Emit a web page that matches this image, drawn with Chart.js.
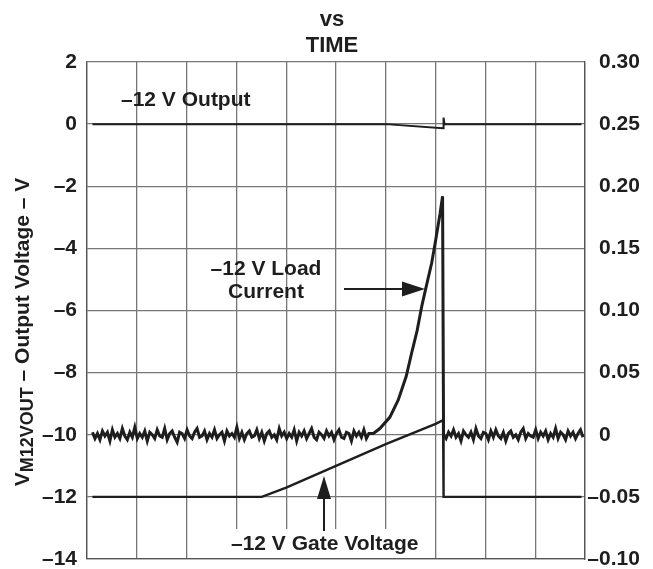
<!DOCTYPE html>
<html>
<head>
<meta charset="utf-8">
<script src="https://cdn.jsdelivr.net/npm/chart.js@4.4.0/dist/chart.umd.min.js"></script>
<style>
  html, body { margin: 0; padding: 0; background: #fff; overflow: hidden; }
  canvas { display: block; }
</style>
</head>
<body>
<canvas id="grafico" width="653" height="569"></canvas>
<script>
// time axis is in screen divisions (0..10), no labels on it
const leftTicks = [-14, -12, -10, -8, -6, -4, -2, 0, 2];
const leftTickLabels = ["–14", "–12", "–10", "–8", "–6", "–4", "–2", "0", "2"];
const rightTicks = [-0.10, -0.05, 0, 0.05, 0.10, 0.15, 0.20, 0.25, 0.30];
const rightTickLabels = ["–0.10", "–0.05", "0", "0.05", "0.10", "0.15", "0.20", "0.25", "0.30"];

// -12 V output voltage (V)
const outputT = [0.11, 6.0, 7.15, 7.16, 7.18, 9.93];
const outputV = [0, 0, -0.13, 0.21, 0, 0];

// -12 V gate voltage (V)
const gateT = [0.11, 3.51, 4.0, 5.0, 6.0, 7.0, 7.15, 7.16, 9.93];
const gateV = [-12, -12, -11.7, -11.0, -10.3, -9.65, -9.53, -12, -12];

// -12 V load current, noisy part before the ramp (mA), one sample every 0.05 div from 0.11
const loadNoiseBefore = [
  2,-3,1,-4,3,-1,2,-5,4,-2,1,-3,5,-1,-4,2,-2,6,-3,1,
  -2,3,-5,2,0,-3,4,-1,-2,5,-4,1,3,-2,-6,2,1,-3,4,-1,
  -3,2,5,-2,-1,3,-4,1,-2,4,-3,0,2,-5,3,-1,1,-2,6,-3,
  2,-4,1,3,-2,-1,4,-3,2,-5,1,3,-2,0,-4,5,-1,2,-3,1,
  -2,4,-5,2,-1,3,-3,1,5,-2,-4,2,0,-3,3,-1,2,-4,1,4,
  -2,-3,2,1,-5,3,-1,2,-2,4,-3,1
];
// the ramp up to trip (A)
const riseT = [5.75, 5.88, 6.08, 6.25, 6.41, 6.52, 6.63, 6.72, 6.81, 6.92, 6.99, 7.09, 7.14];
const riseI = [0.001, 0.005, 0.014, 0.028, 0.047, 0.066, 0.084, 0.103, 0.119, 0.138, 0.154, 0.178, 0.192];
// after the trip (mA), from 7.21
const loadNoiseAfter = [
  -3,2,-1,4,-2,1,-5,3,0,-2,2,-4,5,-1,-3,2,1,-4,3,-2,
  4,-1,-3,2,-5,1,3,-2,0,-4,2,5,-3,1,-1,-2,4,-3,2,-1,
  3,-4,1,-2,5,-3,2,0,-4,3,-1,2,-3,1,4,-2
];

const FONT = '"Liberation Sans", Arial, sans-serif';
const INK = "#1e1e1e";

let loadPts = [];
loadNoiseBefore.forEach((mA, i) => loadPts.push({x: 0.11 + i * 0.05, y: mA / 1000}));
riseT.forEach((t, i) => loadPts.push({x: t, y: riseI[i]}));
loadPts.push({x: 7.16, y: 0});
loadNoiseAfter.forEach((mA, i) => loadPts.push({x: 7.21 + i * 0.05, y: mA / 1000}));

function arrowHead(ctx, tx, ty, dir) {
  // dir: "right" or "up"
  ctx.beginPath();
  if (dir == "right") {
    ctx.moveTo(tx, ty); ctx.lineTo(tx - 23, ty - 7.5); ctx.lineTo(tx - 23, ty + 7.5);
  } else {
    ctx.moveTo(tx, ty); ctx.lineTo(tx - 7, ty + 23); ctx.lineTo(tx + 7, ty + 23);
  }
  ctx.closePath();
  ctx.fill();
}

const overlay = {
  id: "overlay",
  afterDraw(chart) {
    const ctx = chart.ctx;
    const yI = chart.scales.yI, yV = chart.scales.yV;
    ctx.save();
    ctx.fillStyle = INK;
    ctx.strokeStyle = INK;

    // title (top line is cut off in the original)
    ctx.font = "bold 22px " + FONT;
    ctx.textAlign = "center";
    ctx.textBaseline = "alphabetic";
    ctx.fillText("vs", 332, 26);
    ctx.fillText("TIME", 332, 52);

    // axis labels
    ctx.font = "bold 21px " + FONT;
    ctx.textBaseline = "middle";
    leftTicks.forEach((v, i) => {
      ctx.textAlign = "right";
      ctx.fillText(leftTickLabels[i], 77, yV.getPixelForValue(v));
    });
    // right side: minus sign hangs to the left
    rightTicks.forEach((v, i) => {
      const y = yI.getPixelForValue(v);
      let lab = rightTickLabels[i];
      if (lab[0] == "–") {
        ctx.textAlign = "right";
        ctx.fillText("–", 599, y);
        lab = lab.substring(1);
      }
      ctx.textAlign = "left";
      ctx.fillText(lab, 599, y);
    });

    // left axis title with subscript
    ctx.save();
    ctx.translate(29, 332);
    ctx.rotate(-Math.PI / 2);
    ctx.textBaseline = "alphabetic";
    ctx.textAlign = "left";
    const big = "bold 21px " + FONT, small = "bold 18px " + FONT;
    ctx.font = big;
    const wV = ctx.measureText("V").width;
    const rest = " – Output Voltage – V";
    const wRest = ctx.measureText(rest).width;
    ctx.font = small;
    const wSub = ctx.measureText("M12VOUT").width;
    let x0 = -(wV + wSub + wRest) / 2;
    ctx.font = big;
    ctx.fillText("V", x0, 0);
    ctx.font = small;
    ctx.fillText("M12VOUT", x0 + wV, 4);
    ctx.font = big;
    ctx.fillText(rest, x0 + wV + wSub, 0);
    ctx.restore();

    // annotations
    ctx.font = "bold 21px " + FONT;
    ctx.textBaseline = "alphabetic";
    ctx.textAlign = "left";
    ctx.fillText("–12 V Output", 121, 106);

    ctx.textAlign = "center";
    ctx.fillText("–12 V Load", 266, 275);
    ctx.fillText("Current", 266, 298);

    ctx.lineWidth = 2;
    ctx.beginPath();
    ctx.moveTo(344, 289); ctx.lineTo(405, 289);
    ctx.stroke();
    arrowHead(ctx, 425, 289, "right");

    ctx.fillStyle = "#fff";
    ctx.fillRect(226, 529, 204, 29);
    ctx.fillStyle = INK;
    ctx.textAlign = "left";
    ctx.fillText("–12 V Gate Voltage", 231, 550);

    ctx.beginPath();
    ctx.moveTo(324, 531); ctx.lineTo(324, 497);
    ctx.stroke();
    arrowHead(ctx, 324, 476, "up");

    ctx.restore();
  }
};

const lineDs = (pts, axis, w) => ({
  data: pts, yAxisID: axis, showLine: true, borderColor: INK,
  borderWidth: w, pointRadius: 0, tension: 0, fill: false
});

new Chart("grafico", {
  type: "scatter",
  data: {
    datasets: [
      lineDs(outputT.map((t, i) => ({x: t, y: outputV[i]})), "yV", 2),
      lineDs(gateT.map((t, i) => ({x: t, y: gateV[i]})), "yV", 2.4),
      lineDs(loadPts, "yI", 3)
    ]
  },
  options: {
    responsive: false,
    animation: false,
    layout: {padding: {top: 62, bottom: 10, left: 0, right: 0}},
    plugins: {legend: {display: false}, tooltip: {enabled: false}, title: {display: false}},
    scales: {
      x: {
        type: "linear", min: 0, max: 10,
        ticks: {display: false, stepSize: 1},
        grid: {color: "#777", lineWidth: 1.3, drawTicks: false},
        border: {color: "#555", width: 1.3},
        afterFit: (s) => { s.height = 0; }
      },
      yV: {
        position: "left", min: -14, max: 2,
        afterBuildTicks: (s) => { s.ticks = leftTicks.map(v => ({value: v})); },
        ticks: {display: false},
        grid: {color: "#777", lineWidth: 1.3, drawTicks: false},
        border: {color: "#555", width: 1.3},
        afterFit: (s) => { s.width = 87; }
      },
      yI: {
        position: "right", min: -0.10, max: 0.30,
        afterBuildTicks: (s) => { s.ticks = rightTicks.map(v => ({value: v})); },
        ticks: {display: false},
        grid: {drawOnChartArea: false, drawTicks: false},
        border: {color: "#555", width: 1.3},
        afterFit: (s) => { s.width = 68; }
      }
    }
  },
  plugins: [overlay]
});
</script>
</body>
</html>
